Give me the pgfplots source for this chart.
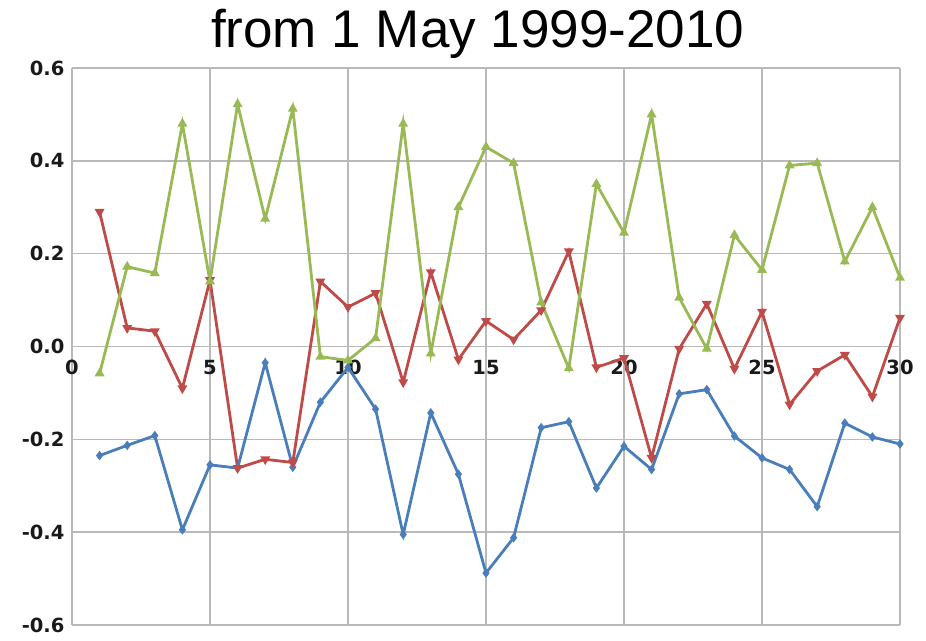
\documentclass[border=0pt]{standalone}
\usepackage{pgfplots}
\pgfplotsset{compat=1.18}
\usepackage{fontspec}
\setmainfont{Liberation Sans}
\newfontfamily\tickfont{DejaVu Sans}
\definecolor{cblue}{RGB}{74,126,187}
\definecolor{cred}{RGB}{190,75,72}
\definecolor{cgreen}{RGB}{152,185,84}
\definecolor{cgrid}{RGB}{185,185,185}
\begin{document}
\begin{tikzpicture}
\useasboundingbox (0,0) rectangle (926pt,640pt);
\begin{axis}[
  at={(72pt,15pt)}, anchor=south west,
  scale only axis, width=828pt, height=557pt,
  xmin=0, xmax=30, ymin=-0.6, ymax=0.6,
  xtick={0,5,10,15,20,25,30},
  ytick={-0.6,-0.4,-0.2,0,0.2,0.4,0.6},
  axis x line*=middle, axis y line*=left,
  axis line style={draw=none},
  hide obscured x ticks=false, hide obscured y ticks=false,
  major tick length=0pt,
  grid=major,
  major grid style={draw=cgrid, line width=1.4pt},
  /pgf/number format/assume math mode=true,
  ticklabel style={font=\tickfont\bfseries\fontsize{19.5}{19.5}\selectfont, text=black!90},
  y tick label style={/pgf/number format/.cd, fixed, fixed zerofill, precision=1, /tikz/.cd, xshift=-4pt},
  x tick label style={yshift=-10pt},
  title={from 1 May 1999-2010},
  title style={font=\fontsize{53}{53}\selectfont, at={(axis description cs:0.49,1)}, anchor=base, yshift=14pt},
  clip=false,
]
\addplot[cblue, line width=2.8pt, mark=diamond*, mark size=2.5pt] coordinates {
(1,-0.235) (2,-0.213) (3,-0.192) (4,-0.395) (5,-0.255) (6,-0.262) (7,-0.035) (8,-0.26) (9,-0.12) (10,-0.045)
(11,-0.135) (12,-0.405) (13,-0.143) (14,-0.275) (15,-0.488) (16,-0.412) (17,-0.175) (18,-0.162) (19,-0.305) (20,-0.215)
(21,-0.265) (22,-0.102) (23,-0.093) (24,-0.193) (25,-0.24) (26,-0.265) (27,-0.345) (28,-0.165) (29,-0.195) (30,-0.21)
};
\addplot[cred, line width=2.8pt, mark=triangle*, mark size=3pt, mark options={rotate=180}] coordinates {
(1,0.29) (2,0.04) (3,0.033) (4,-0.09) (5,0.143) (6,-0.262) (7,-0.243) (8,-0.25) (9,0.14) (10,0.085)
(11,0.115) (12,-0.077) (13,0.16) (14,-0.028) (15,0.055) (16,0.015) (17,0.078) (18,0.205) (19,-0.045) (20,-0.025)
(21,-0.24) (22,-0.005) (23,0.092) (24,-0.048) (25,0.075) (26,-0.125) (27,-0.053) (28,-0.018) (29,-0.108) (30,0.062)
};
\addplot[cgreen, line width=2.8pt, mark=triangle*, mark size=3pt] coordinates {
(1,-0.058) (2,0.172) (3,0.158) (4,0.48) (5,0.14) (6,0.522) (7,0.275) (8,0.512) (9,-0.022) (10,-0.03)
(11,0.018) (12,0.48) (13,-0.015) (14,0.3) (15,0.43) (16,0.395) (17,0.095) (18,-0.047) (19,0.35) (20,0.245)
(21,0.5) (22,0.105) (23,-0.005) (24,0.24) (25,0.165) (26,0.39) (27,0.395) (28,0.183) (29,0.3) (30,0.148)
};
\end{axis}
\end{tikzpicture}
\end{document}
